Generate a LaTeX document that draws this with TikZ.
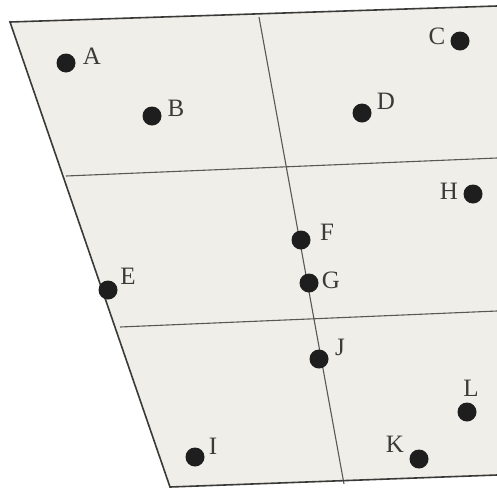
\documentclass[tikz,border=0pt]{standalone}
\usepackage{fontspec}
\setmainfont{Liberation Serif}
\definecolor{paper}{HTML}{EFEEE8}
\definecolor{ink}{HTML}{3A3A38}
\definecolor{dotc}{HTML}{1E1E1E}
\tikzset{
  edge/.style={draw=ink, line width=1.6pt},
  grid/.style={draw=ink!85, line width=1.1pt},
  pt/.style={circle, fill=dotc, minimum size=19pt, inner sep=0pt},
  lbl/.style={inner sep=0pt, text=ink, font=\fontsize{25}{25}\selectfont}
}
\begin{document}
\begin{tikzpicture}[x=1pt,y=-1pt]
\useasboundingbox (0,0) rectangle (497,488);
\fill[white] (0,0) rectangle (497,488);
\coordinate (TL) at (10,22);
\coordinate (TR) at (497,6);
\coordinate (BR) at (497,475);
\coordinate (BL) at (170,487);
\fill[paper] (TL) -- (TR) -- (BR) -- (BL) -- cycle;
% grid lines
\coordinate (h1a) at (66,176);
\coordinate (h1b) at (497,158);
\coordinate (h2a) at (120,327);
\coordinate (h2b) at (497,311);
\coordinate (v1a) at (259,17);
\coordinate (v1b) at (344,484);
\draw[grid] (h1a) -- (h1b);
\draw[grid] (h2a) -- (h2b);
\draw[grid] (v1a) -- (v1b);
% outline
\draw[edge] (TR) -- (TL) -- (BL) -- (BR);
% points
\node[pt] (A) at (66,63) {};
\node[pt] (B) at (152,116) {};
\node[pt] (C) at (460,41) {};
\node[pt] (D) at (362,113) {};
\node[pt] (E) at (108,290) {};
\node[pt] (F) at (301,240) {};
\node[pt] (G) at (309,283) {};
\node[pt] (H) at (473,194) {};
\node[pt] (I) at (195,457) {};
\node[pt] (J) at (319,359) {};
\node[pt] (K) at (419,459) {};
\node[pt] (L) at (467,412) {};
% labels
\node[lbl] (lA) at (92,56) {A};
\node[lbl] (lB) at (176,108) {B};
\node[lbl] (lC) at (437,36) {C};
\node[lbl] (lD) at (386,101) {D};
\node[lbl] (lE) at (128,276) {E};
\node[lbl] (lF) at (327,232) {F};
\node[lbl] (lG) at (331,280) {G};
\node[lbl] (lH) at (449,191) {H};
\node[lbl] (lI) at (213,446) {I};
\node[lbl] (lJ) at (340,347) {J};
\node[lbl] (lK) at (395,444) {K};
\node[lbl] (lL) at (471,388) {L};
\end{tikzpicture}
\end{document}
